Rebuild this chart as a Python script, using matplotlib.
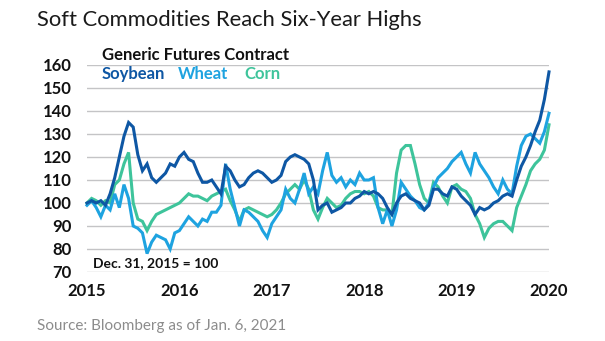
import matplotlib
matplotlib.use("Agg")
import matplotlib.pyplot as plt
import numpy as np

# ---- data (index, Dec. 31, 2015 = 100), sampled every 0.05 year ----
start_year = 2015
step = 0.05
soybean = [100, 101, 100, 101, 99, 104, 111, 120, 129, 135, 133, 121, 114, 117, 111, 109, 111, 113, 117, 116,
           120, 122, 119, 118, 113, 109, 109, 110, 107, 104, 116, 114, 110, 107, 108, 111, 113, 114, 113, 111,
           109, 110, 112, 118, 120, 121, 120, 119, 117, 110, 97, 99, 100, 96, 97, 98, 100, 100, 102, 103,
           105, 104, 105, 104, 102, 98, 95, 100, 103, 104, 102, 101, 100, 97, 99, 106, 106, 104, 103, 107,
           106, 103, 101, 99, 95, 98, 97, 98, 100, 101, 103, 104, 103, 110, 116, 120, 125, 131, 136, 145, 157]
wheat = [99, 101, 98, 94, 99, 97, 104, 98, 108, 102, 90, 89, 87, 78, 83, 86, 85, 84, 80, 87,
         88, 91, 94, 92, 90, 93, 92, 96, 96, 99, 117, 106, 98, 90, 97, 96, 94, 92, 88, 85,
         91, 94, 97, 106, 102, 100, 106, 113, 104, 107, 104, 114, 122, 112, 109, 111, 107, 110, 108, 113,
         110, 110, 111, 98, 91, 97, 90, 97, 109, 106, 103, 101, 98, 97, 100, 107, 111, 113, 115, 118,
         120, 122, 117, 113, 122, 117, 114, 111, 107, 104, 110, 106, 104, 116, 125, 129, 130, 128, 126, 131, 139]
corn = [100, 102, 101, 99, 101, 100, 108, 110, 117, 122, 100, 93, 92, 88, 92, 95, 96, 97, 98, 99,
        100, 102, 104, 103, 103, 102, 101, 103, 104, 105, 106, 101, 97, 92, 97, 98, 97, 96, 95, 94,
        95, 97, 100, 104, 106, 108, 106, 110, 106, 97, 93, 98, 102, 100, 98, 99, 102, 104, 105, 105,
        104, 105, 103, 98, 97, 97, 95, 113, 123, 125, 125, 117, 108, 102, 100, 109, 107, 103, 100, 107,
        108, 106, 105, 102, 95, 91, 85, 89, 91, 92, 92, 90, 88, 98, 103, 108, 114, 117, 119, 123, 134]
x_ticks = [2015, 2016, 2017, 2018, 2019, 2020]
y_ticks = [70, 80, 90, 100, 110, 120, 130, 140, 150, 160]

years = [start_year + i * step for i in range(len(soybean))]

C_SOY = "#0e57a4"
C_WHEAT = "#1ea3e0"
C_CORN = "#3ec49b"

plt.rcParams["font.family"] = ["Lato", "DejaVu Sans"]

W, H = 605, 341
fig = plt.figure(figsize=(W / 100, H / 100), dpi=100)
ax = fig.add_axes([87 / W, 1 - 272 / H, (549 - 87) / W, (272 - 65) / H])

for ys, c in [(corn, C_CORN), (wheat, C_WHEAT), (soybean, C_SOY)]:
    ax.plot(years, ys, color=c, lw=2.2, solid_joinstyle="miter", clip_on=False, zorder=3)

ax.set_xlim(2015, 2020)
ax.set_ylim(70, 160)
ax.set_yticks(y_ticks)
ax.set_xticks(x_ticks)
ax.set_xticklabels([str(v) for v in x_ticks])
ax.yaxis.grid(True, color="#c4c4c6", lw=1.0, zorder=0)
ax.xaxis.grid(False)
for s in ax.spines.values():
    s.set_visible(False)
ax.tick_params(axis="both", length=0, labelsize=12, colors="#111111")
ax.tick_params(axis="y", pad=11)
ax.tick_params(axis="x", pad=8)
for lab in ax.get_xticklabels() + ax.get_yticklabels():
    lab.set_fontweight("bold")

def px(x, y):
    return x / W, 1 - y / H

fig.text(*px(37, 20), "Soft Commodities Reach Six-Year Highs", fontsize=15.8,
         color="#1a1a1a", va="center", ha="left")
fig.text(*px(102, 55), "Generic Futures Contract", fontsize=12, fontweight="bold",
         color="#111111", va="center", ha="left")
fig.text(*px(102, 74), "Soybean", fontsize=12, fontweight="bold", color=C_SOY, va="center", ha="left")
fig.text(*px(178, 74), "Wheat", fontsize=12, fontweight="bold", color=C_WHEAT, va="center", ha="left")
fig.text(*px(244, 74), "Corn", fontsize=12, fontweight="bold", color=C_CORN, va="center", ha="left")
fig.text(*px(93, 263), "Dec. 31, 2015 = 100", fontsize=10, fontweight="bold",
         color="#111111", va="center", ha="left")
fig.text(*px(37, 326), "Source: Bloomberg as of Jan. 6, 2021", fontsize=11, fontweight="normal",
         color="#8c8c8c", va="center", ha="left")

fig.savefig("out.png", dpi=100)
